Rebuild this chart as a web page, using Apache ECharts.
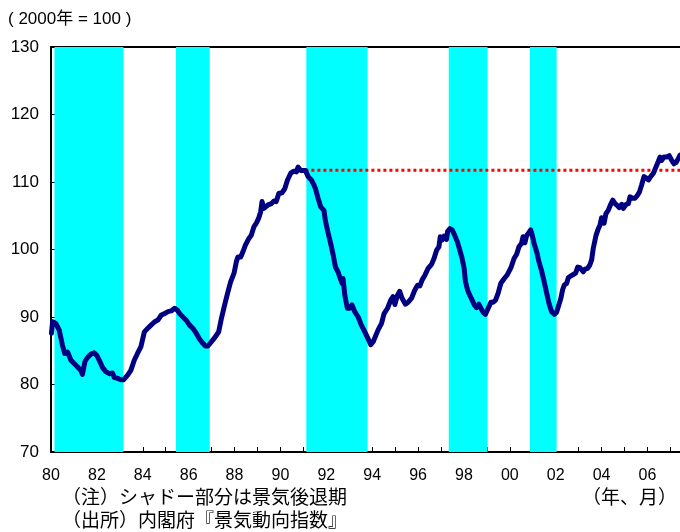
<!DOCTYPE html>
<html><head><meta charset="utf-8">
<script src="https://cdn.jsdelivr.net/npm/echarts/dist/echarts.min.js"></script>
<style>html,body{margin:0;padding:0;background:#fff}#c{width:680px;height:532px}</style>
</head><body><div id="c"></div>
<script>
// time positions (decimal years)
const years = [
1980.02,1980.07,1980.21,1980.36,1980.50,1980.60,1980.72,1980.87,1981.01,1981.16,1981.30,1981.37,1981.48,1981.59,1981.74,1981.88,
1982.00,1982.10,1982.25,1982.39,1982.54,1982.68,1982.76,1982.90,1983.05,1983.16,1983.34,1983.48,1983.63,1983.77,1983.92,
1984.07,1984.21,1984.36,1984.52,1984.66,1984.81,1984.95,1985.10,1985.24,1985.39,1985.51,1985.61,1985.75,1985.90,
1986.04,1986.19,1986.33,1986.48,1986.62,1986.73,1986.84,1986.92,1987.06,1987.21,1987.31,1987.43,1987.57,1987.71,1987.83,1987.98,
1988.08,1988.15,1988.27,1988.37,1988.47,1988.62,1988.73,1988.85,1988.95,1989.05,1989.14,1989.20,1989.28,1989.46,1989.61,1989.72,1989.82,1989.93,
1990.07,1990.19,1990.31,1990.45,1990.59,1990.70,1990.77,1990.89,1990.99,1991.09,1991.21,1991.35,1991.47,1991.53,1991.64,1991.76,1991.90,1991.96,
1992.07,1992.19,1992.30,1992.40,1992.51,1992.59,1992.69,1992.73,1992.81,1992.92,1993.02,1993.12,1993.24,1993.39,1993.53,1993.68,1993.82,1993.94,
1994.04,1994.14,1994.26,1994.41,1994.52,1994.67,1994.81,1994.91,1994.99,1995.10,1995.20,1995.30,1995.45,1995.57,1995.72,1995.86,1995.98,
1996.08,1996.18,1996.30,1996.44,1996.59,1996.70,1996.81,1996.91,1996.97,1997.05,1997.14,1997.24,1997.29,1997.39,1997.49,1997.60,1997.72,1997.82,1997.92,
1998.01,1998.07,1998.16,1998.26,1998.36,1998.45,1998.55,1998.65,1998.74,1998.84,1998.94,1999.06,1999.18,1999.28,1999.38,1999.49,1999.61,1999.76,1999.90,
2000.05,2000.19,2000.30,2000.40,2000.51,2000.58,2000.66,2000.73,2000.83,2000.91,2000.98,2001.06,2001.17,2001.27,2001.39,2001.50,2001.61,2001.71,2001.82,2001.94,
2002.04,2002.14,2002.23,2002.30,2002.37,2002.48,2002.55,2002.67,2002.77,2002.87,2002.96,2003.06,2003.13,2003.20,2003.28,2003.39,2003.49,2003.57,2003.64,2003.76,2003.86,2003.93,
2004.00,2004.11,2004.19,2004.29,2004.40,2004.49,2004.59,2004.69,2004.77,2004.88,2004.95,2005.07,2005.17,2005.24,2005.36,2005.46,2005.56,2005.65,2005.75,2005.85,2005.94,
2006.04,2006.14,2006.26,2006.37,2006.47,2006.55,2006.62,2006.72,2006.84,2006.95,2007.06,2007.16,2007.25,2007.35,2007.42
];
// index values (2000 = 100)
const values = [
87.6,89.3,89.05,88.05,85.8,84.6,84.8,83.6,83.1,82.6,82.1,81.5,83.4,84.0,84.5,84.7,
84.3,83.6,82.5,81.9,81.6,81.7,81.05,80.9,80.7,80.7,81.4,82.1,83.6,84.6,85.6,
87.8,88.3,88.8,89.3,89.55,90.3,90.5,90.8,90.9,91.3,91.0,90.5,90.0,89.5,
88.8,88.3,87.6,86.7,86.1,85.7,85.7,85.6,86.6,87.3,87.8,89.8,91.8,93.7,95.2,96.5,
98.2,98.9,98.9,99.7,100.6,101.6,102.1,103.4,103.9,104.6,105.6,107.1,106.1,106.6,106.8,107.2,107.1,108.3,
108.4,109.0,110.3,111.3,111.6,111.5,112.2,111.7,111.7,111.7,110.8,110.3,109.5,109.0,107.6,106.3,105.8,104.3,
102.6,100.9,99.2,97.4,96.7,95.9,95.0,95.7,93.2,91.3,91.3,91.8,90.8,90.0,88.8,87.8,86.8,85.9,
86.3,87.1,88.1,89.05,90.5,91.3,92.5,93.0,91.85,93.2,93.8,92.8,91.9,92.2,92.8,94.0,94.7,
94.6,95.5,96.2,97.2,97.8,98.7,99.9,100.4,101.9,101.4,102.0,101.5,102.7,103.1,102.9,102.1,101.1,99.9,98.7,
97.2,95.2,94.0,93.2,92.5,91.8,91.4,91.9,91.3,90.7,90.4,91.3,92.2,92.2,92.5,93.5,95.0,95.7,96.3,
97.3,98.7,99.3,100.4,100.9,101.9,101.0,102.0,102.5,102.9,102.1,100.9,99.7,98.2,96.8,95.2,93.5,92.0,90.8,90.4,
90.7,91.8,92.8,94.0,94.7,95.0,95.8,96.1,96.3,96.5,97.4,97.3,97.4,96.7,97.1,97.2,97.7,98.5,100.2,102.1,103.1,103.6,
104.7,103.9,105.3,105.8,106.7,107.3,106.8,106.5,106.2,106.7,106.1,106.7,106.8,107.8,107.6,107.6,108.0,108.5,109.6,110.8,110.6,
110.3,110.8,111.3,112.2,113.0,113.7,113.2,113.7,113.7,113.9,113.2,112.7,112.9,113.5,114.0
];
// recession (shaded) periods, decimal years
const recessionStart = [1980.15, 1985.45, 1991.13, 1997.34, 2000.88];
const recessionEnd   = [1983.16, 1986.92, 1993.80, 1999.03, 2002.04];
// previous peak reference level (dotted)
const refStart = 1991.09, refEnd = 2007.42, refLevel = 111.75;
const xMin = 1980, xMax = 2007.42;
const yMin = 70, yMax = 130, yStep = 10;

const FONT = "'Liberation Sans', Arial, 'Noto Sans CJK JP', sans-serif";
const JFONT = "'Noto Sans CJK JP', 'Liberation Sans', sans-serif";

const chart = echarts.init(document.getElementById('c'), null, {renderer: 'canvas'});
const lineData = years.map((t, i) => [t, values[i]]);
chart.setOption({
  animation: false,
  backgroundColor: '#ffffff',
  grid: {left: 51, right: 0, top: 47, bottom: 80, containLabel: false},
  xAxis: [{
    type: 'value', min: xMin, max: xMax, interval: 1,
    axisLine: {show: true, onZero: false, lineStyle: {color: '#000', width: 2}},
    axisTick: {show: true, inside: true, length: 5, lineStyle: {color: '#000', width: 1}},
    splitLine: {show: false},
    axisLabel: {
      fontSize: 16, color: '#000', fontFamily: FONT, margin: 16,
      showMaxLabel: false,
      formatter: v => (Math.abs(v - Math.round(v)) < 1e-6 && Math.round(v) % 2 === 0) ? String(Math.round(v) % 100).padStart(2, '0') : ''
    }
  }, {
    type: 'value', min: xMin, max: xMax, position: 'top',
    axisLine: {show: true, onZero: false, lineStyle: {color: '#000', width: 2}},
    axisTick: {show: false}, axisLabel: {show: false}, splitLine: {show: false}
  }],
  yAxis: {
    type: 'value', min: yMin, max: yMax, interval: yStep,
    axisLine: {show: true, onZero: false, lineStyle: {color: '#000', width: 2}},
    axisTick: {show: true, inside: true, length: 5, lineStyle: {color: '#000', width: 1}},
    splitLine: {show: false},
    axisLabel: {fontSize: 17, color: '#000', fontFamily: FONT, margin: 12}
  },
  series: [{
    type: 'line', data: [], z: 1, silent: true,
    markArea: {
      silent: true,
      itemStyle: {color: '#00ffff', opacity: 1},
      data: recessionStart.map((s, i) => [{xAxis: s}, {xAxis: recessionEnd[i]}])
    }
  }, {
    type: 'line', z: 2, showSymbol: false, silent: true,
    data: [[refStart, refLevel], [refEnd, refLevel]],
    lineStyle: {color: '#ff0000', width: 3, type: [3, 3]}
  }, {
    type: 'line', z: 3, showSymbol: false, silent: true,
    data: lineData,
    lineStyle: {color: '#000080', width: 5, join: 'round', cap: 'round'}
  }],
  graphic: [
    {type: 'text', left: 8, top: 11, style: {text: '( 2000年 = 100 )', font: "17px " + FONT, fill: '#000'}},
    {type: 'text', left: 62, top: 487, style: {text: '（注）シャドー部分は景気後退期', font: "19px " + JFONT, fill: '#000'}},
    {type: 'text', left: 62, top: 510, style: {text: '（出所）内閣府『景気動向指数』', font: "19px " + JFONT, fill: '#000'}},
    {type: 'text', right: 3, top: 487, style: {text: '（年、月）', font: "19px " + JFONT, fill: '#000'}}
  ]
});
</script>
</body></html>
